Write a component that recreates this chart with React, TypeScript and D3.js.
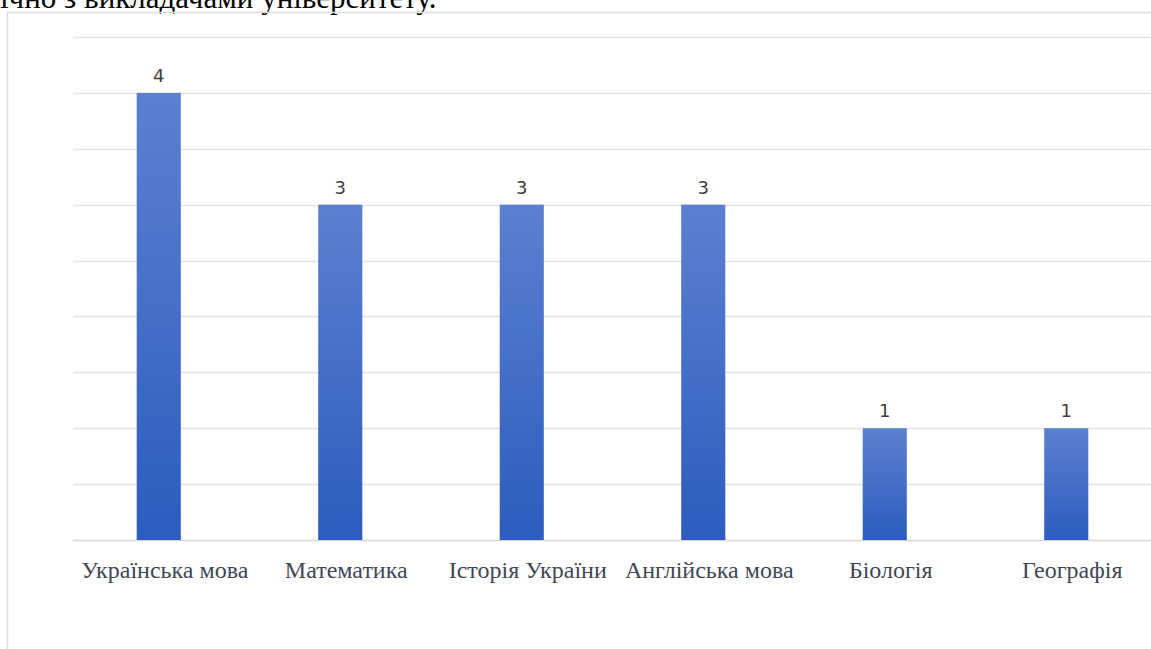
import { useEffect, useRef } from 'react';
import * as d3 from 'd3';

const categories = ['Українська мова', 'Математика', 'Історія України', 'Англійська мова', 'Біологія', 'Географія'];
const values = [4, 3, 3, 3, 1, 1];
const gridTicks = [0, 0.5, 1, 1.5, 2, 2.5, 3, 3.5, 4, 4.5];
const headerText = 'ічно з викладачами університету.';

const serif = "'Liberation Serif', 'Times New Roman', 'DejaVu Serif', serif";

const App = () => {
  const chartRef = useRef<SVGSVGElement | null>(null);

  useEffect(() => {
    const svg = d3.select(chartRef.current);
    svg.selectAll('*').remove();

    const width = 1151;
    const height = 649;

    // plot area (runs off the right edge like the screenshot)
    const left = 68;
    const right = 1157;
    const top = 37;
    const bottom = 540;

    const x = d3.scaleBand<string>()
      .domain(categories)
      .range([left, right])
      .paddingInner(0.757)
      .paddingOuter(0.3785);

    const y = d3.scaleLinear()
      .domain([0, 4.5])
      .range([bottom, top]);

    const defs = svg.append('defs');
    const grad = defs.append('linearGradient')
      .attr('id', 'barGrad')
      .attr('x1', 0).attr('y1', 0).attr('x2', 0).attr('y2', 1);
    grad.append('stop').attr('offset', '0%').attr('stop-color', '#5c80d0');
    grad.append('stop').attr('offset', '100%').attr('stop-color', '#2c5cbf');

    svg.append('rect')
      .attr('width', width)
      .attr('height', height)
      .attr('fill', '#ffffff');

    // clipped line of document text above the chart
    svg.append('text')
      .attr('x', 0)
      .attr('y', 8)
      .style('font-family', serif)
      .attr('font-size', 31)
      .attr('fill', '#000')
      .text(headerText);

    // chart frame
    svg.append('rect')
      .attr('x', 7.5)
      .attr('y', 12.5)
      .attr('width', width + 10)
      .attr('height', height + 10)
      .attr('fill', 'none')
      .attr('stroke', '#dcdcdc')
      .attr('stroke-width', 1.5);

    // gridlines
    svg.append('g')
      .selectAll('line')
      .data(gridTicks)
      .enter()
      .append('line')
      .attr('x1', 73)
      .attr('x2', width)
      .attr('y1', d => Math.round(y(d)) + 0.5)
      .attr('y2', d => Math.round(y(d)) + 0.5)
      .attr('stroke', d => (d === 0 ? '#d6d6d6' : '#e2e2e2'))
      .attr('stroke-width', 1.3);

    // bars
    svg.append('g')
      .selectAll('rect')
      .data(values)
      .enter()
      .append('rect')
      .attr('x', (d, i) => x(categories[i]) as number)
      .attr('y', d => y(d))
      .attr('width', x.bandwidth())
      .attr('height', d => bottom - y(d))
      .attr('fill', 'url(#barGrad)');

    // value labels
    svg.append('g')
      .selectAll('text')
      .data(values)
      .enter()
      .append('text')
      .attr('x', (d, i) => (x(categories[i]) as number) + x.bandwidth() / 2)
      .attr('y', d => y(d) - 11)
      .attr('text-anchor', 'middle')
      .style('font-family', "'DejaVu Sans', sans-serif")
      .attr('font-size', 18)
      .attr('fill', '#404040')
      .text(d => d);

    // category labels
    svg.append('g')
      .selectAll('text')
      .data(categories)
      .enter()
      .append('text')
      .attr('x', d => (x(d) as number) + x.bandwidth() / 2 + 6)
      .attr('y', bottom + 38)
      .attr('text-anchor', 'middle')
      .style('font-family', serif)
      .attr('font-size', 24)
      .attr('fill', '#3f4756')
      .text(d => d);
  }, []);

  return (
    <div>
      <svg
        ref={chartRef}
        width={1151}
        height={649}
        style={{ position: 'absolute', left: 0, top: 0, display: 'block' }}
      />
    </div>
  );
};

export default App;
